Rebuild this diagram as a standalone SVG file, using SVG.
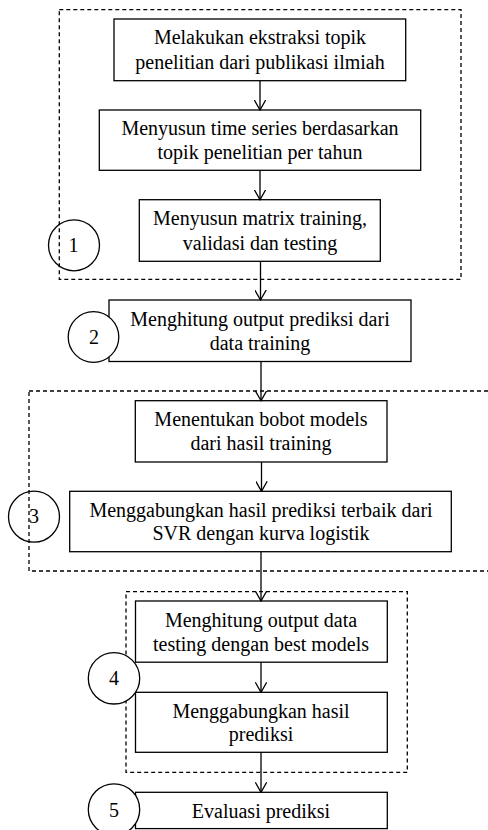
<svg xmlns="http://www.w3.org/2000/svg" width="488" height="830" viewBox="0 0 488 830">
<style>
.box{fill:#fff;stroke:#000;stroke-width:1.3}
.dash{fill:none;stroke:#000;stroke-width:1.3;stroke-dasharray:4,3}
.circ{stroke:#000;stroke-width:1.3}
.t{font-family:"Liberation Serif","Times New Roman",serif;font-size:20px;fill:#000;text-anchor:middle}
.con{stroke:#000;stroke-width:1.3;fill:none;marker-end:url(#arr)}
</style>
<defs>
<marker id="arr" viewBox="0 0 11 12" refX="10" refY="6" markerWidth="11" markerHeight="12" markerUnits="userSpaceOnUse" orient="auto">
<path d="M0,0.3 L10,6 L0,11.7" fill="none" stroke="#000" stroke-width="1.3"/>
</marker>
</defs>
<rect width="488" height="830" fill="#fff"/>
<g id="group1"><rect class="dash" x="59.3" y="9.7" width="401.7" height="269.6"/></g>
<g id="group3"><rect class="dash" x="29" y="391" width="470" height="180"/></g>
<g id="group4"><rect class="dash" x="126" y="591.7" width="281.3" height="180.6"/></g>
<g id="nodeA"><rect class="box" x="114" y="19" width="291.7" height="61.7"/>
<text class="t" x="260" y="44.3">Melakukan ekstraksi topik</text>
<text class="t" x="260" y="69">penelitian dari publikasi ilmiah</text></g>
<g id="nodeB"><rect class="box" x="99.3" y="110" width="321.4" height="60.3"/>
<text class="t" x="260" y="134.7">Menyusun time series berdasarkan</text>
<text class="t" x="260" y="159.3">topik penelitian per tahun</text></g>
<g id="nodeC"><rect class="box" x="139.3" y="199.7" width="241" height="61.6"/>
<text class="t" x="260" y="225">Menyusun matrix training,</text>
<text class="t" x="260" y="250">validasi dan testing</text></g>
<g id="nodeD"><rect class="box" x="109" y="300" width="302" height="61.5"/>
<text class="t" x="260" y="325.7">Menghitung output prediksi dari</text>
<text class="t" x="260" y="350">data training</text></g>
<g id="nodeE"><rect class="box" x="135.3" y="400.7" width="251.7" height="61.3"/>
<text class="t" x="261" y="425.7">Menentukan bobot models</text>
<text class="t" x="261" y="450">dari hasil training</text></g>
<g id="nodeF"><rect class="box" x="69.7" y="491.3" width="381.6" height="60.4"/>
<text class="t" x="261" y="516.7">Menggabungkan hasil prediksi terbaik dari</text>
<text class="t" x="261" y="540.3">SVR dengan kurva logistik</text></g>
<g id="nodeG"><rect class="box" x="135.5" y="601" width="251.8" height="61.2"/>
<text class="t" x="261" y="627.3">Menghitung output data</text>
<text class="t" x="261" y="651">testing dengan best models</text></g>
<g id="nodeH"><rect class="box" x="135.5" y="692.3" width="251.8" height="60"/>
<text class="t" x="261" y="717.7">Menggabungkan hasil</text>
<text class="t" x="261" y="741">prediksi</text></g>
<g id="nodeI"><rect class="box" x="135.5" y="792.3" width="251.8" height="36.3"/>
<text class="t" x="261" y="818.3">Evaluasi prediksi</text></g>
<g id="circle1"><circle class="circ" cx="74" cy="245.3" r="25.5" fill="none"/><text class="t" x="73.5" y="252.3">1</text></g>
<g id="circle2"><circle class="circ" cx="93.5" cy="337" r="25.3" fill="#fff"/><text class="t" x="94" y="343.5">2</text></g>
<g id="circle3"><circle class="circ" cx="34" cy="516.7" r="25.5" fill="none"/><text class="t" x="34" y="523">3</text></g>
<g id="circle4"><circle class="circ" cx="114" cy="678.3" r="25.7" fill="#fff"/><text class="t" x="114" y="685">4</text></g>
<g id="circle5"><circle class="circ" cx="114" cy="809.5" r="25.7" fill="#fff"/><text class="t" x="114" y="816.7">5</text></g>
<g id="connectors">
<line class="con" x1="260" y1="80.7" x2="260" y2="110"/>
<line class="con" x1="260" y1="170.3" x2="260" y2="199.7"/>
<line class="con" x1="260.5" y1="261.3" x2="260.5" y2="300"/>
<line class="con" x1="261" y1="361.5" x2="261" y2="400.7"/>
<line class="con" x1="261.5" y1="462" x2="261.5" y2="491.3"/>
<line class="con" x1="261" y1="551.7" x2="261" y2="601"/>
<line class="con" x1="261" y1="662.2" x2="261" y2="692.3"/>
<line class="con" x1="261" y1="752.3" x2="261" y2="792.3"/>
</g>
</svg>
